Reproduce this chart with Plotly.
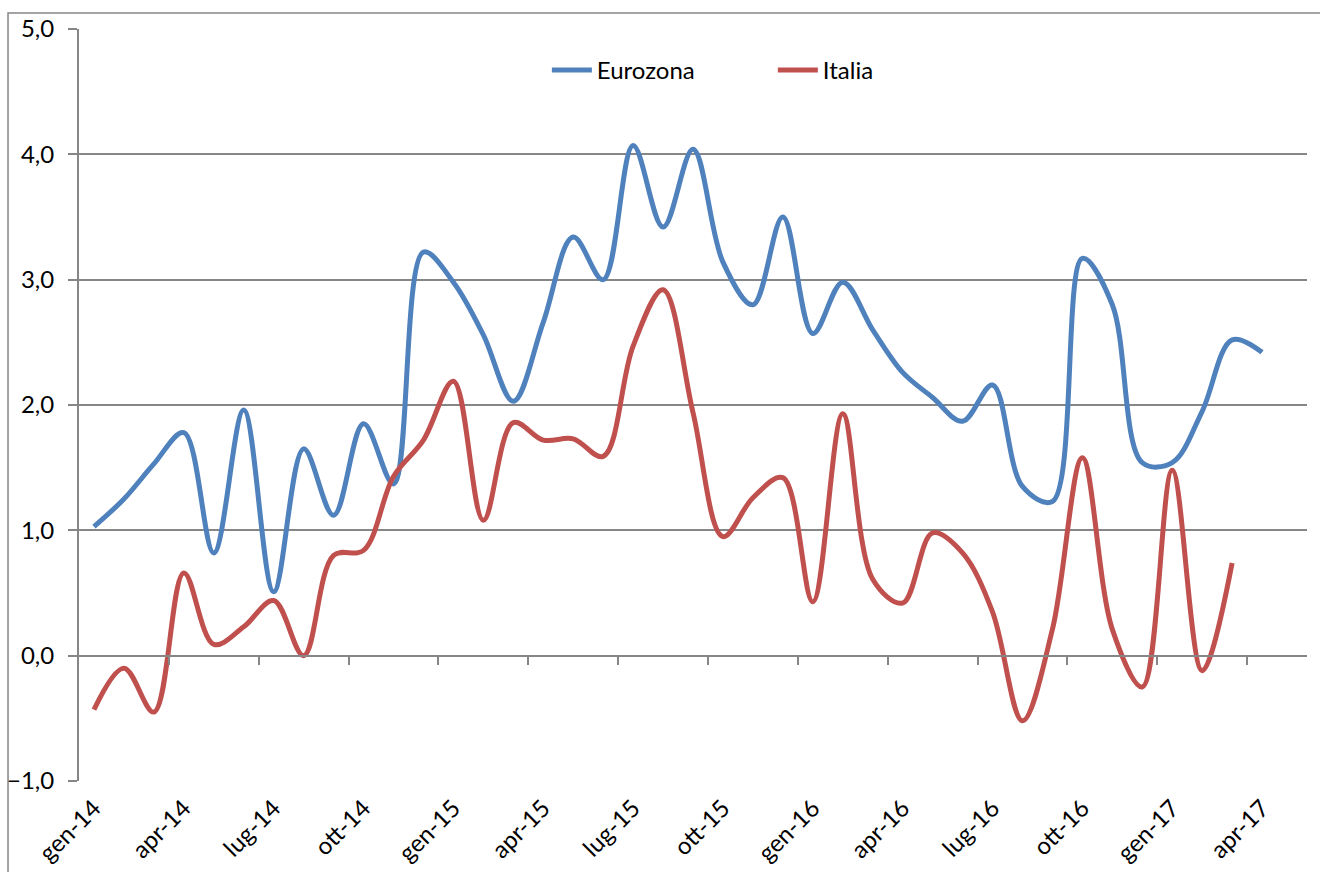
import plotly.graph_objects as go

mesi = ["gen-14", "feb-14", "mar-14", "apr-14", "mag-14", "giu-14", "lug-14", "ago-14", "set-14", "ott-14", "nov-14", "dic-14",
        "gen-15", "feb-15", "mar-15", "apr-15", "mag-15", "giu-15", "lug-15", "ago-15", "set-15", "ott-15", "nov-15", "dic-15",
        "gen-16", "feb-16", "mar-16", "apr-16", "mag-16", "giu-16", "lug-16", "ago-16", "set-16", "ott-16", "nov-16", "dic-16",
        "gen-17", "feb-17", "mar-17", "apr-17", "mag-17"]

eurozona = [1.03, 1.25, 1.53, 1.78, 0.82, 1.96, 0.51, 1.65, 1.12, 1.85, 1.37, 3.22,
            2.98, 2.56, 2.03, 2.66, 3.34, 3.00, 4.07, 3.42, 4.04, 3.14, 2.80, 3.50,
            2.57, 2.98, 2.60, 2.26, 2.06, 1.87, 2.16, 1.35, 1.23, 3.17, 2.80, 1.54,
            1.54, 1.95, 2.52, 2.42]

italia = [-0.43, -0.10, -0.45, 0.66, 0.09, 0.23, 0.44, 0.00, 0.80, 0.84, 1.43, 1.72,
          2.19, 1.08, 1.86, 1.72, 1.73, 1.59, 2.47, 2.92, 1.94, 0.95, 1.26, 1.42,
          0.43, 1.93, 0.61, 0.42, 0.98, 0.82, 0.35, -0.52, 0.21, 1.58, 0.21, -0.25,
          1.48, -0.12, 0.74]

idx_label = list(range(0, 40, 3))
etichette = [mesi[i] for i in idx_label]
confini = [i + 2.5 for i in range(0, 39, 3)]

FONT = "Lato"
GRID = "#868686"

fig = go.Figure()
fig.add_trace(go.Scatter(x=list(range(len(eurozona))), y=eurozona, name="Eurozona", mode="lines",
                         text=mesi[:len(eurozona)],
                         line=dict(color="#4F81BD", width=5, shape="spline", smoothing=1.0)))
fig.add_trace(go.Scatter(x=list(range(len(italia))), y=italia, name="Italia", mode="lines",
                         text=mesi[:len(italia)],
                         line=dict(color="#C0504D", width=5, shape="spline", smoothing=1.0)))

fig.update_layout(
    width=1320, height=872,
    margin=dict(l=79, r=13, t=29, b=91, autoexpand=False),
    paper_bgcolor="white", plot_bgcolor="white",
    separators=",.",
    font=dict(family=FONT, size=24, color="black"),
    showlegend=True,
    legend=dict(orientation="h", x=0.381, xanchor="left", y=0.945, yanchor="middle",
                bgcolor="rgba(0,0,0,0)", font=dict(size=24), entrywidth=171,
                itemwidth=40),
    xaxis=dict(range=[-0.5, 40.5], anchor="free", position=1/6,
               tickmode="array", tickvals=idx_label, ticktext=etichette,
               tickangle=-45, ticks="", showgrid=False,
               showline=True, linecolor=GRID, linewidth=2, zeroline=False,
               tickfont=dict(size=24), automargin=False, ticklabelstandoff=128,
               minor=dict(tickmode="array", tickvals=confini, ticks="outside",
                          ticklen=8, tickwidth=2, tickcolor=GRID, showgrid=False)),
    yaxis=dict(range=[-1, 5], dtick=1, tick0=0, tickformat=".1f",
               showgrid=True, gridcolor=GRID, gridwidth=2,
               showline=True, linecolor=GRID, linewidth=2,
               ticks="outside", ticklen=9, tickwidth=2, tickcolor=GRID,
               zeroline=False, tickfont=dict(size=24), ticklabelstandoff=9,
               automargin=False),
    shapes=[dict(type="rect", xref="paper", yref="paper",
                 x0=-0.0578, y0=-0.15, x1=1.05, y1=1.0213,
                 line=dict(color=GRID, width=1.5), fillcolor="rgba(0,0,0,0)", layer="below")],
)

fig.write_html("out.html", config={"displayModeBar": False},
               post_script="document.body.style.margin='0';document.body.style.overflow='hidden';")
